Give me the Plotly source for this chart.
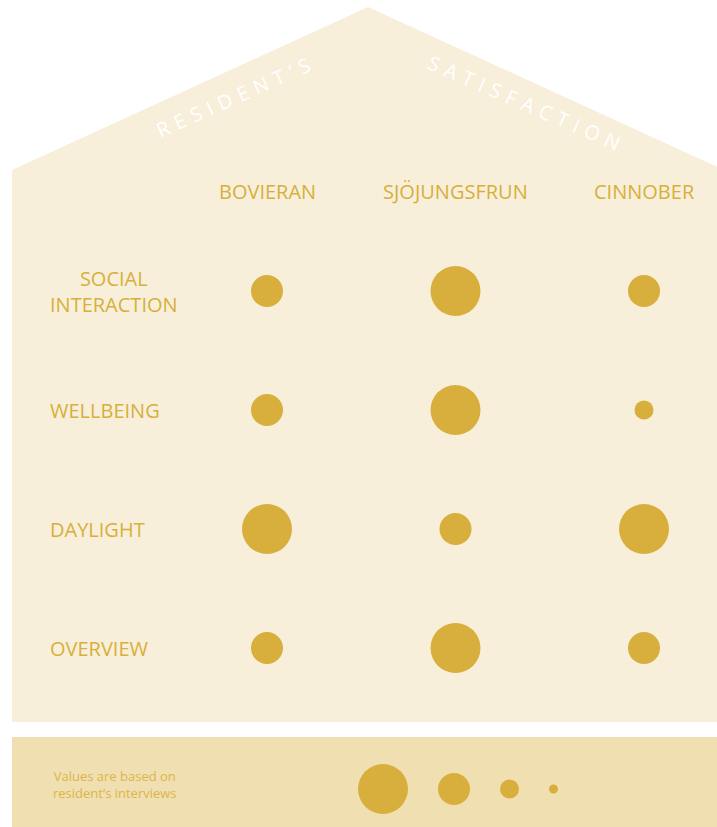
import plotly.graph_objects as go

# Survey results: satisfaction level 1 (low) .. 4 (high)
houses = ['BOVIERAN', 'SJÖJUNGSFRUN', 'CINNOBER']
aspects = ['SOCIAL<br>INTERACTION', 'WELLBEING', 'DAYLIGHT', 'OVERVIEW']
social = [3, 4, 3]
wellbeing = [3, 4, 2]
daylight = [4, 3, 4]
overview = [3, 4, 3]
legend_levels = [4, 3, 2, 1]

# styling
W, H = 717, 827
GOLD = '#D8AF3C'
HOUSE = '#F7EFD9'
BOX = '#F0DFB0'
FONT = 'Open Sans'
diam = {1: 9, 2: 19, 3: 32, 4: 50}   # marker diameter per level


def px(x):
    return x / W


def py(y):
    return 1 - y / H


rows = [social, wellbeing, daylight, overview]
xs, ys, sz = [], [], []
for aspect, vals in zip(aspects, rows):
    for house, v in zip(houses, vals):
        xs.append(house)
        ys.append(aspect)
        sz.append(diam[v])

fig = go.Figure()
fig.add_trace(go.Scatter(x=xs, y=ys, mode='markers',
                         marker=dict(size=sz, color=GOLD, opacity=1, line=dict(width=0)),
                         hoverinfo='skip', showlegend=False))

# legend bubbles packed side by side
gap = 30
lx, cur = [], 383
for i, lv in enumerate(legend_levels):
    if i > 0:
        cur += diam[legend_levels[i - 1]] / 2 + gap + diam[lv] / 2
    lx.append(cur)
fig.add_trace(go.Scatter(x=lx, y=['scale'] * len(lx), mode='markers',
                         marker=dict(size=[diam[v] for v in legend_levels],
                                     color=GOLD, opacity=1, line=dict(width=0)),
                         xaxis='x2', yaxis='y2',
                         hoverinfo='skip', showlegend=False))

# house outline and legend strip
house_path = 'M {},{} L {},{} L {},{} L {},{} L {},{} Z'.format(
    px(12), py(170), px(368), py(7), px(724), py(170),
    px(724), py(722), px(12), py(722))
shapes = [
    dict(type='path', path=house_path, xref='paper', yref='paper',
         fillcolor=HOUSE, line=dict(width=0), layer='below'),
    dict(type='rect', xref='paper', yref='paper', x0=px(12), x1=px(724),
         y0=py(827), y1=py(737), fillcolor=BOX, line=dict(width=0), layer='below'),
]


def note(**kw):
    kw.setdefault('showarrow', False)
    kw.setdefault('xanchor', 'center')
    kw.setdefault('yanchor', 'middle')
    return kw


annotations = []
for h in houses:
    annotations.append(note(x=h, xref='x', y=py(192), yref='paper', text=h,
                            font=dict(family=FONT, size=20, color=GOLD)))
for a in aspects:
    annotations.append(note(x=px(48), xref='paper', xanchor='left', y=a, yref='y',
                            text=a, align='center',
                            font=dict(family=FONT, size=20, color=GOLD)))

# wide tracking on the roof titles
track = '\u2004'
annotations.append(note(x=px(233), y=py(97), xref='paper', yref='paper',
                        text=track.join('RESIDENT’S'), textangle=-24,
                        font=dict(family=FONT, size=20, color='white')))
annotations.append(note(x=px(524), y=py(102), xref='paper', yref='paper',
                        text=track.join('SATISFACTION'), textangle=23.5,
                        font=dict(family=FONT, size=20, color='white')))

annotations.append(note(x=px(115), y=py(784), xref='paper', yref='paper',
                        text='Values are based on<br>resident’s interviews',
                        align='center',
                        font=dict(family=FONT, size=13, color='#DDB54A')))

# evenly spaced rows, first at 291px, last at 648px
step = (648 - 291) / 3
y_top, y_bot = 291 - step / 2, 648 + step / 2
# column spacing: 267px .. 644px
cstep = (644 - 267) / 2
x_left = 267 - cstep / 2

layout = go.Layout(
    width=W, height=H,
    margin=dict(l=0, r=0, t=0, b=0),
    paper_bgcolor='white', plot_bgcolor='rgba(0,0,0,0)',
    xaxis=dict(type='category', categoryorder='array', categoryarray=houses,
               domain=[px(x_left), 1], range=[-0.5, -0.5 + (W - x_left) / cstep],
               visible=False),
    yaxis=dict(type='category', categoryorder='array', categoryarray=aspects,
               domain=[py(y_bot), py(y_top)], range=[3.5, -0.5], visible=False),
    xaxis2=dict(domain=[0, 1], range=[0, W], visible=False, anchor='y2'),
    yaxis2=dict(type='category', domain=[py(814), py(764)], visible=False, anchor='x2'),
    shapes=shapes,
    annotations=annotations,
)
fig.update_layout(layout)

fig.write_html('out.html', config={'displayModeBar': False},
               post_script="document.body.style.margin='0';"
                           "document.body.style.overflow='hidden';")
